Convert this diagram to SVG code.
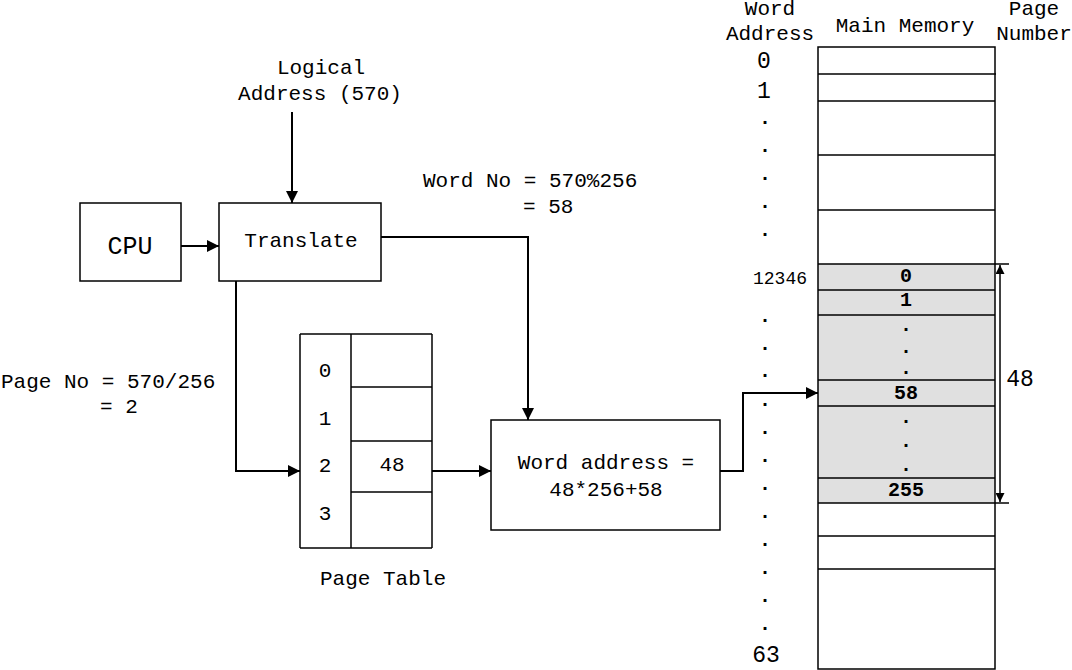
<svg xmlns="http://www.w3.org/2000/svg" width="1072" height="670" viewBox="0 0 1072 670">
<style>
text{font-family:"Liberation Mono","Courier New",monospace;fill:#000;}
.t{font-size:21px;}
.m{text-anchor:middle;}
.b{font-weight:bold;font-size:20px;}
.big{font-size:23px;}
.box{fill:#fff;stroke:#000;stroke-width:1.5;}
.ln{fill:none;stroke:#000;stroke-width:1.5;}
.cn{fill:none;stroke:#000;stroke-width:2;}
</style>
<defs>
<marker id="ah" viewBox="0 0 10 10" refX="10" refY="5" markerWidth="6" markerHeight="6" markerUnits="strokeWidth" orient="auto">
<path d="M0,0 L10,5 L0,10 z" fill="#000"/>
</marker>
<marker id="sa" viewBox="0 0 10 10" refX="10" refY="5" markerWidth="9" markerHeight="9" markerUnits="userSpaceOnUse" orient="auto-start-reverse">
<path d="M0,0 L10,5 L0,10 z" fill="#000"/>
</marker>
</defs>
<rect width="1072" height="670" fill="#fff"/>

<g id="connectors">
<line class="cn" x1="292" y1="112" x2="292" y2="203" marker-end="url(#ah)"/>
<line class="cn" x1="181" y1="246" x2="219" y2="246" marker-end="url(#ah)"/>
<polyline class="cn" points="381,237 528,237 528,420" marker-end="url(#ah)"/>
<polyline class="cn" points="236,281 236,471 300,471" marker-end="url(#ah)"/>
<line class="cn" x1="432" y1="471" x2="491" y2="471" marker-end="url(#ah)"/>
<polyline class="cn" points="720,471 743,471 743,393 818,393" marker-end="url(#ah)"/>
<line x1="1000" y1="265" x2="1000" y2="502" stroke="#000" stroke-width="1.5" marker-start="url(#sa)" marker-end="url(#sa)"/>
</g>

<g id="logical-address">
<text class="t m" x="321" y="74">Logical</text>
<text class="t m" x="320" y="100">Address (570)</text>
</g>

<g id="cpu">
<rect class="box" x="80" y="203" width="101" height="78"/>
<text class="m" x="130" y="254" font-size="25">CPU</text>
</g>

<g id="translate">
<rect class="box" x="219" y="203" width="162" height="78"/>
<text class="t m" x="301" y="247">Translate</text>
</g>

<g id="word-no-label">
<text class="t" x="423" y="187">Word No = 570%256</text>
<text class="t" x="523" y="213">= 58</text>
</g>

<g id="page-no-label">
<text class="t" x="1" y="388">Page No = 570/256</text>
<text class="t" x="100" y="413">= 2</text>
</g>

<g id="page-table">
<line class="ln" x1="300" y1="334" x2="432" y2="334"/>
<line class="ln" x1="300" y1="548" x2="432" y2="548"/>
<line class="ln" x1="300" y1="334" x2="300" y2="548"/>
<line class="ln" x1="351" y1="334" x2="351" y2="548"/>
<line class="ln" x1="432" y1="334" x2="432" y2="548"/>
<line class="ln" x1="351" y1="387" x2="432" y2="387"/>
<line class="ln" x1="351" y1="441" x2="432" y2="441"/>
<line class="ln" x1="351" y1="492" x2="432" y2="492"/>
<text class="t m" x="325" y="377">0</text>
<text class="t m" x="325" y="425">1</text>
<text class="t m" x="325" y="472">2</text>
<text class="t m" x="325" y="520">3</text>
<text class="t m" x="392" y="471">48</text>
<text class="t" x="320" y="585">Page Table</text>
</g>

<g id="word-address-box">
<rect class="box" x="491" y="420" width="229" height="110"/>
<text class="t m" x="606" y="469">Word address =</text>
<text class="t m" x="606" y="496">48*256+58</text>
</g>

<g id="main-memory">
<text class="t m" x="905" y="32">Main Memory</text>
<rect x="818" y="264" width="177" height="239" fill="#e0e0e0"/>
<rect x="818" y="47" width="177" height="622" fill="none" stroke="#000" stroke-width="1.5"/>
<g class="ln">
<line x1="818" y1="74" x2="996" y2="74"/>
<line x1="818" y1="101" x2="995" y2="101"/>
<line x1="818" y1="155" x2="995" y2="155"/>
<line x1="818" y1="210" x2="995" y2="210"/>
<line x1="818" y1="264" x2="1009" y2="264"/>
<line x1="818" y1="290" x2="995" y2="290"/>
<line x1="818" y1="315" x2="995" y2="315"/>
<line x1="818" y1="380" x2="995" y2="380"/>
<line x1="818" y1="406" x2="995" y2="406"/>
<line x1="818" y1="478" x2="995" y2="478"/>
<line x1="818" y1="503" x2="1009" y2="503"/>
<line x1="818" y1="536" x2="995" y2="536"/>
<line x1="818" y1="569" x2="995" y2="569"/>
</g>
<text class="b m" x="906" y="282">0</text>
<text class="b m" x="906" y="306">1</text>
<text class="b m" x="906" y="331">.</text>
<text class="b m" x="906" y="353">.</text>
<text class="b m" x="906" y="374">.</text>
<text class="b m" x="906" y="399">58</text>
<text class="b m" x="906" y="423">.</text>
<text class="b m" x="906" y="447">.</text>
<text class="b m" x="906" y="471">.</text>
<text class="b m" x="906" y="496">255</text>
</g>

<g id="word-address-column">
<text class="t m" x="770" y="15">Word</text>
<text class="t m" x="770" y="40">Address</text>
<text class="big m" x="764" y="68">0</text>
<text class="big m" x="764" y="98">1</text>
<g class="b m">
<text x="765" y="124">.</text>
<text x="765" y="152">.</text>
<text x="765" y="180">.</text>
<text x="765" y="208">.</text>
<text x="765" y="236">.</text>
<text x="765" y="322">.</text>
<text x="765" y="350">.</text>
<text x="765" y="377">.</text>
<text x="765" y="406">.</text>
<text x="765" y="434">.</text>
<text x="765" y="462">.</text>
<text x="765" y="490">.</text>
<text x="765" y="518">.</text>
<text x="765" y="546">.</text>
<text x="765" y="574">.</text>
<text x="765" y="602">.</text>
<text x="765" y="630">.</text>
</g>
<text class="m" x="780" y="284" font-size="18">12346</text>
<text class="big m" x="766" y="662">63</text>
</g>

<g id="page-number">
<text class="t m" x="1034" y="15">Page</text>
<text class="t m" x="1034" y="40">Number</text>
<text class="big m" x="1020" y="386">48</text>
</g>
</svg>
